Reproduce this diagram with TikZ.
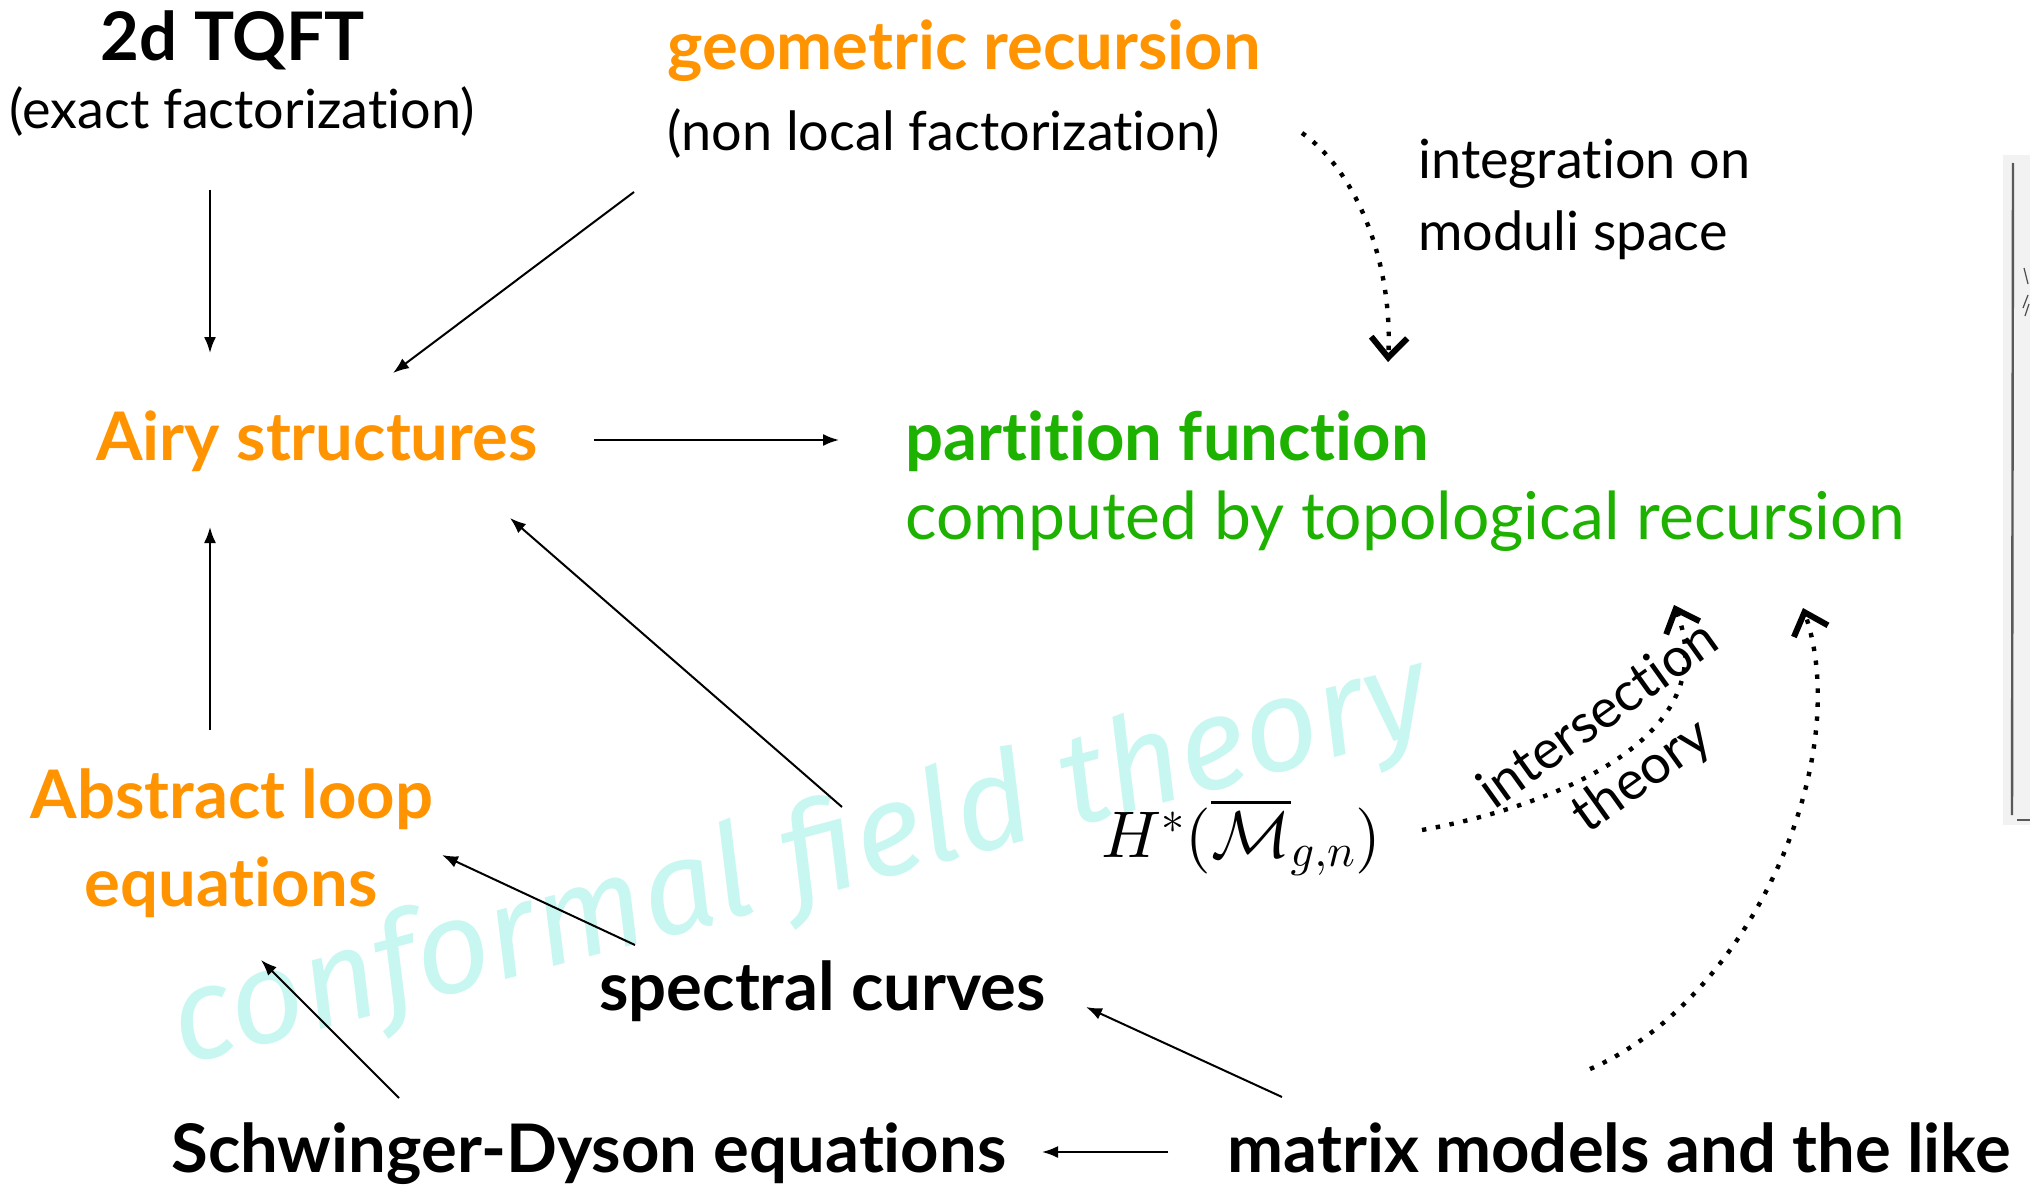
\documentclass[tikz,border=0pt]{standalone}
\usepackage{fontspec}
\setmainfont{Lato}[Ligatures={NoCommon,NoContextual}]
\newfontfamily\chalkfont{Fira Sans}
\usepackage{amsmath}
\usepackage{amssymb}
\DeclareFontShape{OML}{cmm}{m}{it}{<->cmmi10}{}
\DeclareFontShape{OMS}{cmsy}{m}{n}{<->cmsy10}{}
\DeclareFontShape{OT1}{cmr}{m}{n}{<->cmr10}{}
\usetikzlibrary{arrows.meta}
\definecolor{airyorange}{HTML}{FF9300}
\definecolor{pfgreen}{HTML}{1DB100}
\definecolor{cftcyan}{HTML}{C8F7F1}

\begin{document}
\begin{tikzpicture}[x=50pt, y=-50pt, >={Latex[length=8pt,width=6pt]},
  big/.style={inner sep=0pt, font=\fontsize{33.5}{40}\selectfont\bfseries},
  mid/.style={inner sep=0pt, font=\fontsize{33}{40}\selectfont},
  small/.style={inner sep=0pt, font=\fontsize{27}{37}\selectfont},
  dotarrow/.style={line width=2.2pt, dash pattern=on 2.2pt off 4.8pt, -{Straight Barb[length=10pt,width=18pt,line width=3pt]}},]
\useasboundingbox (0,0) rectangle (20.30,11.88);
\fill[gray!10] (20.03,1.55) rectangle (20.30,8.25);
\draw[gray!70!black, line width=1.2pt] (20.13,1.63)--(20.12,8.15);
\draw[gray!70!black, line width=1pt] (20.17,8.20)--(20.30,8.20);
\draw[gray!60!black, line width=0.6pt] (20.24,2.68)--(20.28,2.84) (20.23,3.08)--(20.28,2.95) (20.25,3.16)--(20.29,3.04);

\node[rotate=15, anchor=base, text=cftcyan, inner sep=0pt, font=\chalkfont\itshape\fontsize{65}{70}\selectfont] (0) at (8.10,8.98) {conformal field theory};

\node[big, anchor=base] (1) at (2.33,0.60) {2d TQFT};
\node[small, anchor=base] (1b) at (2.42,1.29) {(exact factorization)};
\node[big, airyorange, anchor=base west] (2) at (6.67,0.70) {geometric recursion};
\node[small, anchor=base west] (2b) at (6.67,1.50) {(non local factorization)};
\node[small, anchor=base west] (3) at (14.18,1.79) {integration on};
\node[small, anchor=base west] (3b) at (14.18,2.50) {moduli space};
\node[big, airyorange, anchor=base west] (4) at (0.96,4.60) {Airy structures};
\node[big, pfgreen, anchor=base west] (5) at (9.05,4.60) {partition function};
\node[mid, pfgreen, anchor=base west] (5b) at (9.05,5.39) {computed by topological recursion};
\node[big, airyorange, anchor=base] (6) at (2.32,8.18) {Abstract loop};
\node[big, airyorange, anchor=base] (6b) at (2.31,9.06) {equations};
\node[big, anchor=base west] (7) at (5.99,10.10) {spectral curves};
\node[big, anchor=base west] (8) at (1.71,11.72) {Schwinger-Dyson equations};
\node[big, anchor=base west] (9) at (12.27,11.72) {matrix models and the like};
\node[inner sep=0pt, anchor=base west, font=\fontsize{33}{40}\selectfont] (10) at (11.01,8.57) {$H^*(\overline{\mathcal{M}}_{g,n})$};
\node[small, rotate=35.6, align=center] (11) at (16.21,7.47) {intersection\\theory};

\coordinate (1o) at (2.10,1.90);  \coordinate (4n) at (2.10,3.53);
\coordinate (2o) at (6.34,1.92);  \coordinate (4ne) at (3.93,3.73);
\coordinate (4e) at (5.94,4.40);  \coordinate (5w) at (8.39,4.40);
\coordinate (6n) at (2.10,7.30);  \coordinate (4s) at (2.10,5.27);
\coordinate (7n) at (8.42,8.07);  \coordinate (4se) at (5.10,5.18);
\coordinate (7nw) at (6.35,9.45); \coordinate (6e) at (4.42,8.55);
\coordinate (8n) at (3.99,10.98); \coordinate (6s) at (2.61,9.60);
\coordinate (9nw) at (12.82,10.97); \coordinate (7e) at (10.86,10.07);
\coordinate (9w) at (11.68,11.52); \coordinate (8e) at (10.42,11.52);

 \draw [->, line width=1pt] (1o)--(4n);
 \draw [->, line width=1pt] (2o)--(4ne);
  \draw [->, line width=1pt] (4e)--(5w);
  \draw [->, line width=1pt] (6n)--(4s);
   \draw [->, line width=1pt] (7n)--(4se);
   \draw [->, line width=1pt] (7nw)--(6e);
  \draw [->, line width=1pt] (8n)--(6s);
  \draw [->, line width=1pt] (9nw)--(7e);
 \draw [->, line width=1pt] (9w)--(8e);

\coordinate (2e) at (13.02,1.33);  \coordinate (5n) at (13.88,3.62);
\coordinate (10e) at (14.22,8.30); \coordinate (5s) at (16.74,6.05);
\coordinate (9n) at (15.90,10.69); \coordinate (5se) at (18.03,6.08);
 \draw [dotarrow] (2e) .. controls (13.55,1.70) and (13.93,2.60) .. (5n);
 \draw [dotarrow] (10e) .. controls (15.60,8.05) and (17.25,7.35) .. (5s);
 \draw [dotarrow] (9n) .. controls (17.50,10.00) and (18.55,7.60) .. (5se);
\end{tikzpicture}
\end{document}
